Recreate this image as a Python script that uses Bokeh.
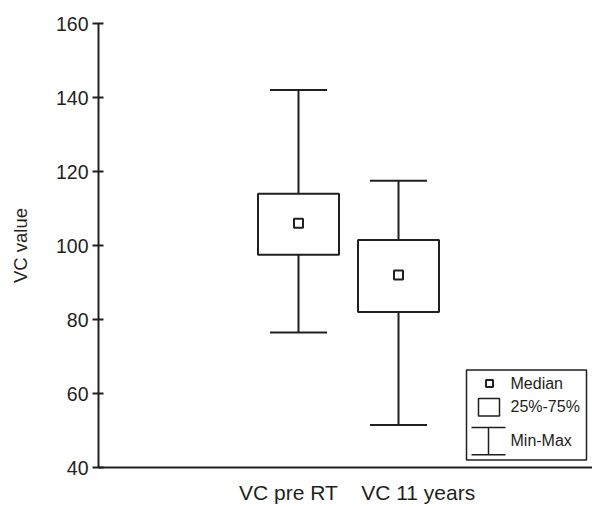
from bokeh.plotting import figure
from bokeh.models import Range1d, FixedTicker, Label
from bokeh.embed import file_html
from bokeh.resources import INLINE

categories = ["VC pre RT", "VC 11 years"]
vmin = [76.5, 51.5]
q1 = [97.5, 82.0]
median = [106.0, 92.0]
q3 = [114.0, 101.5]
vmax = [142.0, 117.5]
y_ticks = [40, 60, 80, 100, 120, 140, 160]
legend_labels = ["Median", "25%-75%", "Min-Max"]

INK = "#231f20"
FONT = "Liberation Sans"
NB = "\u00a0"

p = figure(width=592, height=507, output_backend="svg", toolbar_location=None,
           x_range=Range1d(0, 4.94), y_range=Range1d(40, 160),
           min_border_left=98, min_border_right=0, min_border_top=23, min_border_bottom=40)
p.outline_line_color = None
p.grid.grid_line_color = None

xs = [i + 2 for i in range(len(categories))]
bw = 0.81
cw = 0.57

# whiskers
p.segment(x0=xs, x1=xs, y0=vmin, y1=q1, line_color=INK, line_width=2)
p.segment(x0=xs, x1=xs, y0=q3, y1=vmax, line_color=INK, line_width=2)
p.segment(x0=[x - cw / 2 for x in xs], x1=[x + cw / 2 for x in xs], y0=vmin, y1=vmin, line_color=INK, line_width=2)
p.segment(x0=[x - cw / 2 for x in xs], x1=[x + cw / 2 for x in xs], y0=vmax, y1=vmax, line_color=INK, line_width=2)
# boxes
p.quad(left=[x - bw / 2 for x in xs], right=[x + bw / 2 for x in xs], bottom=q1, top=q3,
       fill_color="white", line_color=INK, line_width=2)
# medians
p.scatter(x=xs, y=median, marker="square", size=9, fill_color="white", line_color=INK, line_width=2)

# legend box (drawn manually)
def px2x(px):
    return (px - 98) / 100.0

def py2y(py):
    return 40 + (466.7 - py) / 3.7

p.quad(left=[px2x(466)], right=[px2x(586)], bottom=[py2y(459.3)], top=[py2y(369.3)],
       fill_color="white", line_color=INK, line_width=1.5)
p.scatter(x=[px2x(489)], y=[py2y(382.7)], marker="square", size=7, fill_color="white",
          line_color=INK, line_width=2)
p.quad(left=[px2x(478)], right=[px2x(499)], bottom=[py2y(415.3)], top=[py2y(397.7)],
       fill_color="white", line_color=INK, line_width=1.5)
p.segment(x0=[px2x(471), px2x(471), px2x(488)], x1=[px2x(505), px2x(505), px2x(488)],
          y0=[py2y(426.7), py2y(454), py2y(426.7)], y1=[py2y(426.7), py2y(454), py2y(454)],
          line_color=INK, line_width=1.5)
for lbl, py in zip(legend_labels, [382.7, 406, 439.3]):
    p.add_layout(Label(x=px2x(510), y=py2y(py), text=lbl, text_font=FONT, text_font_size="16px",
                       text_color=INK, text_baseline="middle", text_align="left"))

# axes
p.yaxis.ticker = FixedTicker(ticks=y_ticks)
p.yaxis.axis_label = "VC value"
p.yaxis.axis_label_text_font = FONT
p.yaxis.axis_label_text_font_style = "normal"
p.yaxis.axis_label_text_font_size = "18.5px"
p.yaxis.axis_label_text_color = INK
p.yaxis.axis_label_standoff = 22
p.yaxis.major_label_text_font = FONT
p.yaxis.major_label_text_font_size = "19.5px"
p.yaxis.major_label_text_color = INK
p.yaxis.major_label_standoff = 4
p.yaxis.major_tick_in = 5
p.yaxis.major_tick_out = 6
p.yaxis.minor_tick_line_color = None
p.yaxis.axis_line_width = 2
p.yaxis.major_tick_line_width = 2
p.yaxis.axis_line_color = INK
p.yaxis.major_tick_line_color = INK

p.xaxis.ticker = FixedTicker(ticks=[])
p.xaxis.axis_label = NB * 4 + (NB * 3 + " ").join(categories)
p.xaxis.axis_label_text_font = FONT
p.xaxis.axis_label_text_font_style = "normal"
p.xaxis.axis_label_text_font_size = "21px"
p.xaxis.axis_label_text_color = INK
p.xaxis.axis_label_standoff = 13
p.xaxis.axis_line_width = 2
p.xaxis.axis_line_color = INK
p.xaxis.major_tick_line_color = None
p.xaxis.minor_tick_line_color = None

open("out.html", "w").write(file_html(p, INLINE))
